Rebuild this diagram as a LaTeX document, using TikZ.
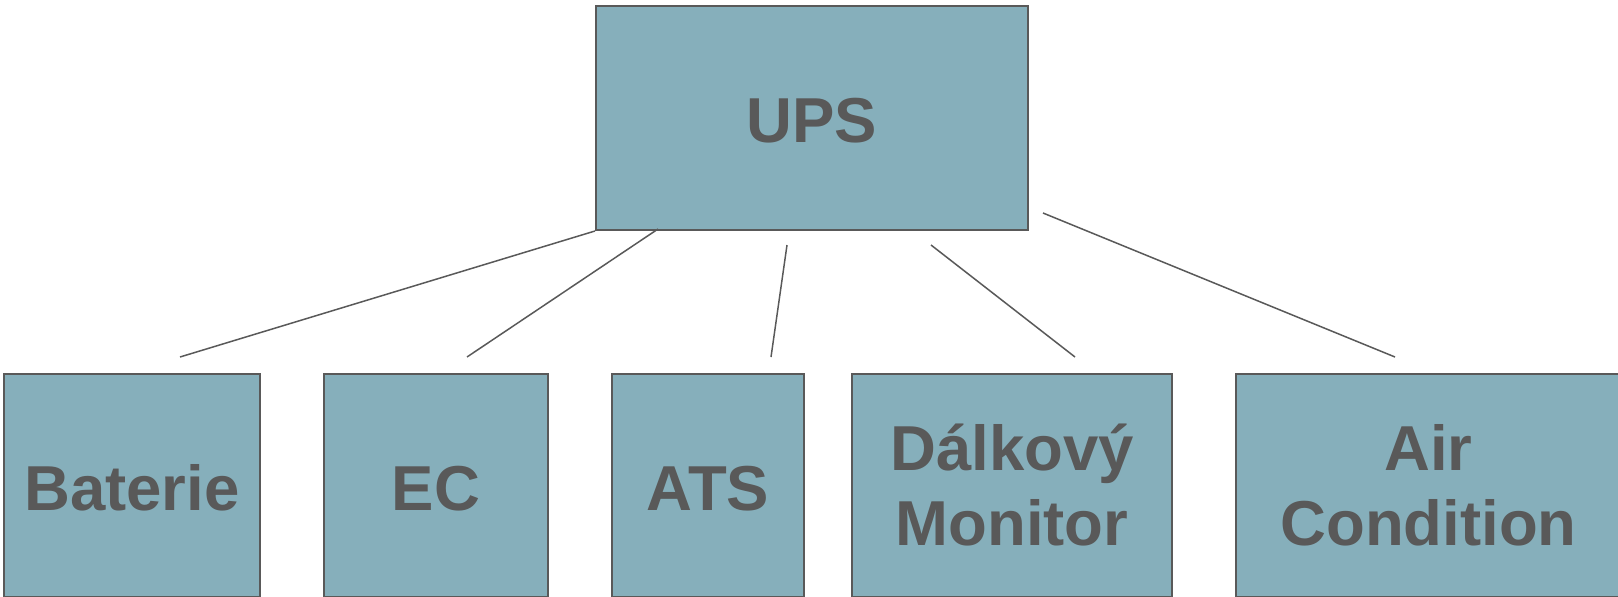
\documentclass[tikz,border=0pt]{standalone}
\usepackage{fontspec}
\setmainfont{Liberation Sans}
\definecolor{boxfill}{HTML}{86AFBB}
\definecolor{ink}{HTML}{595959}
\begin{document}
\begin{tikzpicture}[x=1pt,y=-1pt,
  unit/.style={draw=ink, line width=2pt, fill=boxfill, anchor=north west,
    inner sep=0pt, align=center, text=ink,
    font=\fontsize{63.5}{75}\selectfont\bfseries},
  oneline/.style={text height=49pt, text depth=0pt},
  link/.style={draw=ink, line width=1.5pt}]
\useasboundingbox (0,0) rectangle (1618,597);

% top-level box
\node[unit, oneline, minimum width=432pt, minimum height=224pt] (ups) at (595,5) {UPS};

% sub-systems
\node[unit, oneline, minimum width=256pt, minimum height=223pt] (bat) at (3,373) {Baterie};
\node[unit, oneline, minimum width=224pt, minimum height=223pt] (ec)  at (323,373) {EC};
\node[unit, oneline, minimum width=192pt, minimum height=223pt] (ats) at (611,373) {ATS};
\node[unit, minimum width=320pt, minimum height=223pt] (mon) at (851,373) {Dálkový\\Monitor};
\node[unit, minimum width=385pt, minimum height=223pt] (air) at (1235,373) {Air\\Condition};

% free ends of the connectors
\coordinate (s2) at (658,229);
\coordinate (s3) at (787,245);
\coordinate (s4) at (931,245);
\coordinate (s5) at (1043,213);
\coordinate (e1) at (180,357);
\coordinate (e2) at (467,357);
\coordinate (e3) at (771,357);
\coordinate (e4) at (1075,357);
\coordinate (e5) at (1395,357);

\draw[link] (ups.south west) -- (e1);
\draw[link] (s2) -- (e2);
\draw[link] (s3) -- (e3);
\draw[link] (s4) -- (e4);
\draw[link] (s5) -- (e5);
\end{tikzpicture}
\end{document}
